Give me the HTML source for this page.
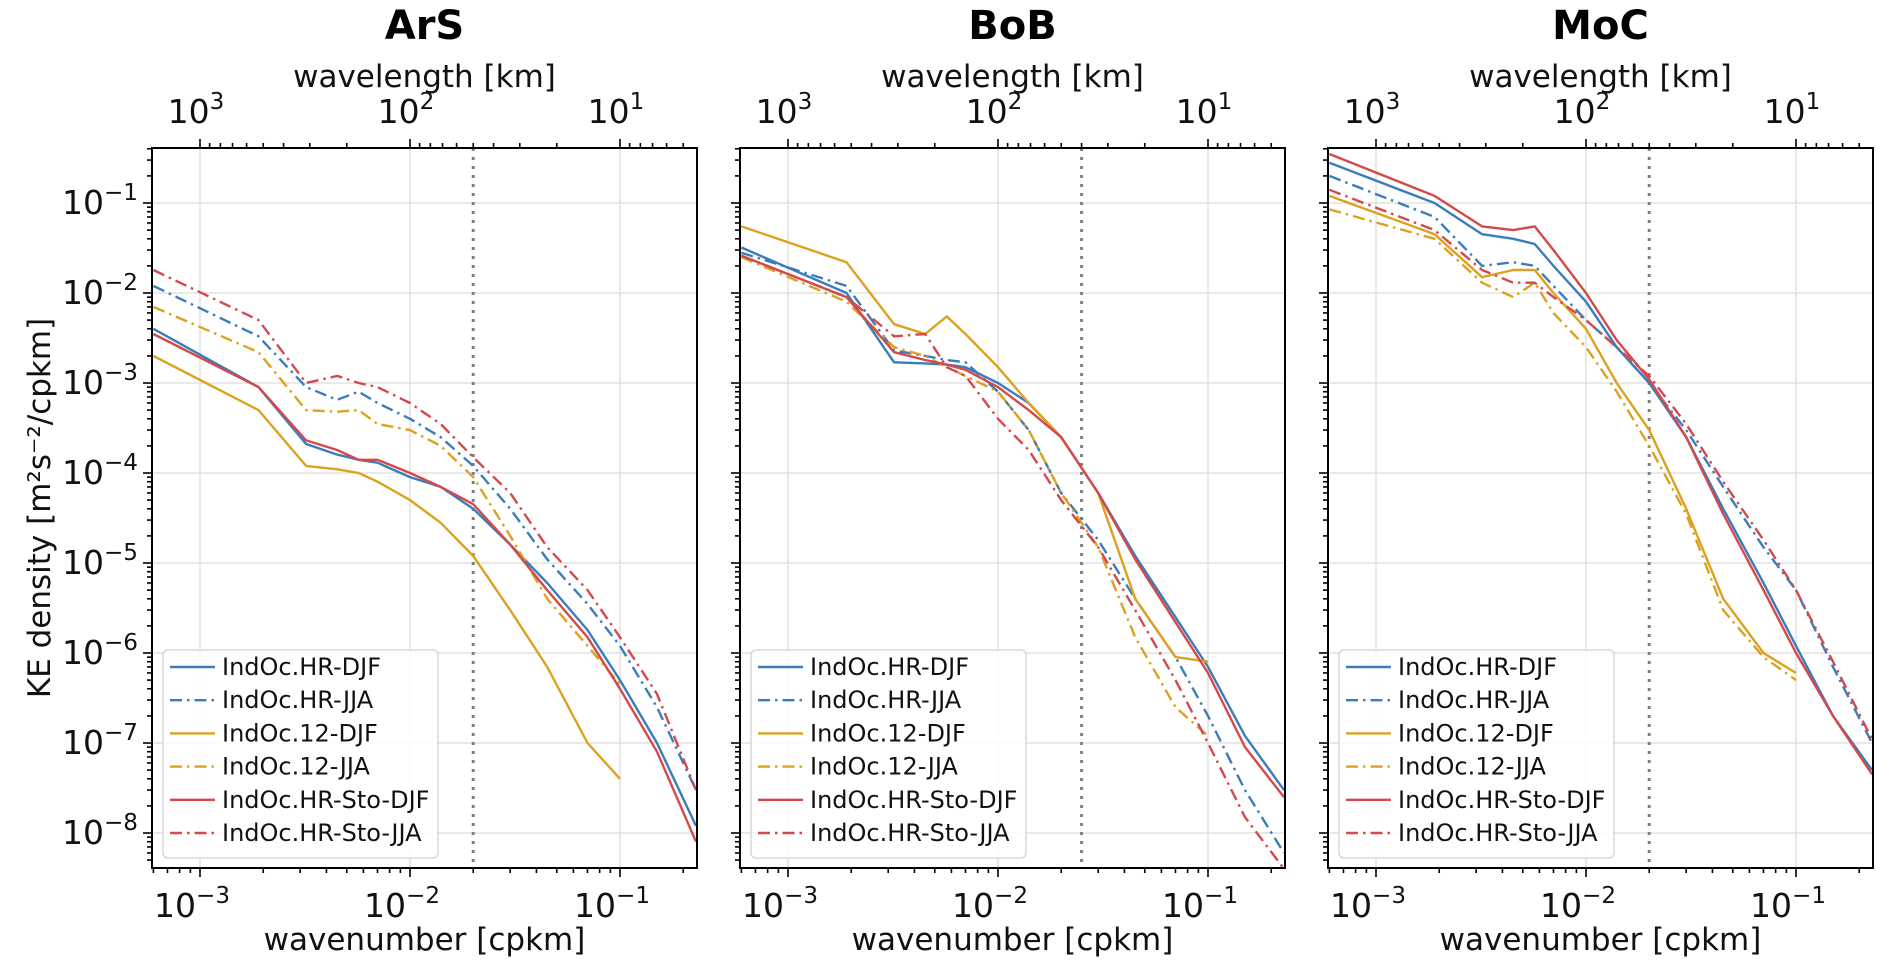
<!DOCTYPE html>
<html><head><meta charset="utf-8"><style>
html,body{margin:0;padding:0;background:#fff;}
svg{display:block;font-family:"DejaVu Sans","Liberation Sans",sans-serif;}
</style></head><body>
<svg id="fig" width="1892" height="980" xmlns="http://www.w3.org/2000/svg">
<text transform="translate(50,508) rotate(-90)" text-anchor="middle" font-size="31" fill="#111">KE density [m²s⁻²/cpkm]</text>
</svg>
<script>
const kVals=[6e-4,1.9e-3,3.2e-3,4.5e-3,5.7e-3,7e-3,1e-2,1.4e-2,2e-2,3e-2,4.5e-2,7e-2,1e-1,1.5e-1,2.3e-1];
const panelNames=["ArS","BoB","MoC"];
const cutoffK=[0.02,0.025,0.02];
const seriesLabels=["IndOc.HR-DJF","IndOc.HR-JJA","IndOc.12-DJF","IndOc.12-JJA","IndOc.HR-Sto-DJF","IndOc.HR-Sto-JJA"];
const N=NaN;
const arsHrDjf=[4e-3,9e-4,2.1e-4,1.6e-4,1.4e-4,1.3e-4,9e-5,7e-5,4e-5,1.6e-5,6e-6,1.8e-6,5e-7,1e-7,1.2e-8];
const arsHrJja=[1.2e-2,3.3e-3,9e-4,6.5e-4,8e-4,6e-4,4e-4,2.5e-4,1.2e-4,4e-5,1.1e-5,3.5e-6,1.2e-6,2.5e-7,3e-8];
const ars12Djf=[2e-3,5e-4,1.2e-4,1.1e-4,1e-4,8e-5,5e-5,2.8e-5,1.2e-5,3e-6,7e-7,1e-7,4e-8,N,N];
const ars12Jja=[7e-3,2.2e-3,5e-4,4.8e-4,5e-4,3.5e-4,3e-4,2e-4,9e-5,2e-5,4e-6,1.2e-6,4.5e-7,N,N];
const arsStoDjf=[3.5e-3,9e-4,2.3e-4,1.8e-4,1.4e-4,1.4e-4,1e-4,7e-5,4.5e-5,1.6e-5,5e-6,1.5e-6,4e-7,8e-8,8e-9];
const arsStoJja=[1.8e-2,5e-3,1e-3,1.2e-3,1e-3,9e-4,6e-4,3.5e-4,1.5e-4,6e-5,1.5e-5,5e-6,1.5e-6,3.5e-7,3e-8];
const bobHrDjf=[3.2e-2,1e-2,1.7e-3,1.65e-3,1.6e-3,1.5e-3,1e-3,6e-4,2.5e-4,6e-5,1.2e-5,2.5e-6,7e-7,1.2e-7,3e-8];
const bobHrJja=[2.8e-2,1.2e-2,2.3e-3,2e-3,1.8e-3,1.7e-3,8e-4,3e-4,6e-5,1.8e-5,4e-6,9e-7,2e-7,3e-8,6e-9];
const bob12Djf=[5.5e-2,2.2e-2,4.5e-3,3.5e-3,5.5e-3,3.5e-3,1.5e-3,6e-4,2.5e-4,6e-5,4e-6,9e-7,8e-7,N,N];
const bob12Jja=[2.5e-2,8e-3,2.5e-3,2e-3,1.5e-3,1.2e-3,8e-4,3e-4,6e-5,1.5e-5,1.5e-6,2.5e-7,1.2e-7,N,N];
const bobStoDjf=[2.6e-2,9e-3,2.2e-3,1.8e-3,1.6e-3,1.4e-3,9e-4,5e-4,2.5e-4,6e-5,1.1e-5,2.2e-6,6e-7,9e-8,2.5e-8];
const bobStoJja=[2.6e-2,9e-3,3.3e-3,3.5e-3,1.5e-3,1.2e-3,4e-4,1.8e-4,5e-5,1.5e-5,3e-6,5e-7,1e-7,1.5e-8,4e-9];
const mocHrDjf=[0.28,0.1,4.5e-2,4e-2,3.5e-2,2e-2,8e-3,2.5e-3,1e-3,2.5e-4,4e-5,6e-6,1.2e-6,2e-7,5e-8];
const mocHrJja=[0.2,0.07,2e-2,2.2e-2,2e-2,1.2e-2,5e-3,2.5e-3,1e-3,3e-4,7e-5,1.5e-5,5e-6,7e-7,1e-7];
const moc12Djf=[0.12,0.045,1.5e-2,1.8e-2,1.8e-2,1e-2,4e-3,1e-3,3e-4,4e-5,4e-6,1e-6,6e-7,N,N];
const moc12Jja=[0.085,0.04,1.3e-2,9e-3,1.3e-2,6e-3,2.5e-3,8e-4,2e-4,3.5e-5,3e-6,9e-7,5e-7,N,N];
const mocStoDjf=[0.35,0.12,5.5e-2,5e-2,5.5e-2,3e-2,1e-2,3e-3,1.1e-3,2.5e-4,3.5e-5,5e-6,1e-6,2e-7,4.5e-8];
const mocStoJja=[0.14,0.05,1.8e-2,1.3e-2,1.3e-2,9e-3,5e-3,2.5e-3,1.2e-3,3.5e-4,8e-5,1.8e-5,5e-6,8e-7,1.1e-7];
const panelSeries=[[arsHrDjf,arsHrJja,ars12Djf,ars12Jja,arsStoDjf,arsStoJja],[bobHrDjf,bobHrJja,bob12Djf,bob12Jja,bobStoDjf,bobStoJja],[mocHrDjf,mocHrJja,moc12Djf,moc12Jja,mocStoDjf,mocStoJja]];
const yExps=[-1,-2,-3,-4,-5,-6,-7,-8];

const colors=["#3b7dbb","#3b7dbb","#dca21f","#dca21f","#d4494b","#d4494b"];
const dashes=[null,"12,5,2.5,5",null,"12,5,2.5,5",null,"12,5,2.5,5"];
const NS="http://www.w3.org/2000/svg";
const svg=document.getElementById('fig');
function mk(tag,attrs,parent){const e=document.createElementNS(NS,tag);for(const k in attrs)e.setAttribute(k,attrs[k]);(parent||svg).appendChild(e);return e;}
const PW=545,TOP=148,BOT=868,DEC=210;
const lx0=Math.log10(1e-3)-48/DEC;
const ly0=-1+55/90;
function supText(parent,x,y,base,exp,anchor,fs,name){
  const t=mk('text',{x:x,y:y,'text-anchor':anchor,'font-size':fs,fill:'#111'},parent);
  
  
  t.appendChild(document.createTextNode(base));
  const s=mk('tspan',{dy:-fs*0.42,'font-size':fs*0.7},t);s.textContent=exp;
  return t;
}
panelNames.forEach((pn,pi)=>{
  const L=152+pi*588,R=L+PW;
  const X=k=>L+(Math.log10(k)-lx0)*DEC;
  const Y=v=>TOP+(ly0-Math.log10(v))*90;
  const g=mk('g',{});
  
  
  const cx=(L+R)/2;
  const ti=mk('text',{x:cx,y:39,'text-anchor':'middle','font-size':40,'font-weight':'bold',fill:'#000'},g);
  ti.textContent=pn;
  const tl=mk('text',{x:cx,y:87,'text-anchor':'middle','font-size':31,fill:'#111'},g);
  tl.textContent='wavelength [km]';
  const bl=mk('text',{x:cx,y:950,'text-anchor':'middle','font-size':31,fill:'#111'},g);
  bl.textContent='wavenumber [cpkm]';
  [1e-3,1e-2,1e-1].forEach(k=>{const l=mk('line',{x1:X(k),x2:X(k),y1:TOP,y2:BOT,stroke:'#dcdcdc','stroke-width':1.3},g);});
  yExps.forEach(e=>{const y=Y(Math.pow(10,e));const l=mk('line',{x1:L,x2:R,y1:y,y2:y,stroke:'#dcdcdc','stroke-width':1.3},g);});
  const cl=mk('line',{x1:X(cutoffK[pi]),x2:X(cutoffK[pi]),y1:TOP,y2:BOT,stroke:'#808080','stroke-width':3,'stroke-dasharray':'3,6'},g);
  
  panelSeries[pi].forEach((arr,si)=>{
    let d='';kVals.forEach((k,i)=>{const v=arr[i];if(isNaN(v))return;d+=(d?'L':'M')+X(k).toFixed(1)+','+Y(v).toFixed(1);});
    const p=mk('path',{d:d,fill:'none',stroke:colors[si],'stroke-width':2.4,'stroke-linejoin':'round'},g);
    if(dashes[si])p.setAttribute('stroke-dasharray',dashes[si]);
    
    
  });
  const fr=mk('rect',{x:L,y:TOP,width:PW,height:BOT-TOP,fill:'none',stroke:'#000','stroke-width':2},g);
  
  for(let e=-4;e<=0;e++)for(let m=1;m<=9;m++){
    const k=m*Math.pow(10,e);const x=X(k);if(x<L-0.5||x>R+0.5)continue;
    const len=m===1?9:5;
    mk('line',{x1:x,x2:x,y1:BOT,y2:BOT+len,stroke:'#000','stroke-width':1.6},g);
  }
  for(let e=0;e<=4;e++)for(let m=1;m<=9;m++){
    const lam=m*Math.pow(10,e);const x=X(1/lam);if(x<L-0.5||x>R+0.5)continue;
    const len=m===1?9:5;
    mk('line',{x1:x,x2:x,y1:TOP,y2:TOP-len,stroke:'#000','stroke-width':1.6},g);
  }
  [-3,-2,-1].forEach(e=>supText(g,X(Math.pow(10,e))-8,917,'10','−'+(-e),'middle',33,'x-tick-label'));
  [3,2,1].forEach(e=>supText(g,X(Math.pow(10,-e))-4,123,'10',String(e),'middle',33,'top-tick-label'));
  for(let e=-9;e<=0;e++)for(let m=1;m<=9;m++){
    const v=m*Math.pow(10,e);const y=Y(v);if(y<TOP-0.5||y>BOT+0.5)continue;
    mk('line',{x1:L,x2:L-(m===1?9:5),y1:y,y2:y,stroke:'#000','stroke-width':1.6},g);
  }
  if(pi===0)yExps.forEach(e=>supText(g,L-14,Y(Math.pow(10,e))+11,'10','−'+(-e),'end',33,'y-tick-label'));
  const lg=mk('g',{},g);
  mk('rect',{x:L+11,y:650,width:275,height:208,rx:5,fill:'#fff','fill-opacity':0.85,stroke:'#d8d8d8','stroke-width':1.5},lg);
  seriesLabels.forEach((lab,si)=>{
    const y=667+si*33.2;
    const e=mk('g',{},lg);
    const ln=mk('line',{x1:L+18,x2:L+63,y1:y,y2:y,stroke:colors[si],'stroke-width':2.4},e);
    if(dashes[si])ln.setAttribute('stroke-dasharray',dashes[si]);
    const t=mk('text',{x:L+70,y:y+8,'font-size':24,fill:'#111'},e);t.textContent=lab;
  });
});
</script>
</body></html>
